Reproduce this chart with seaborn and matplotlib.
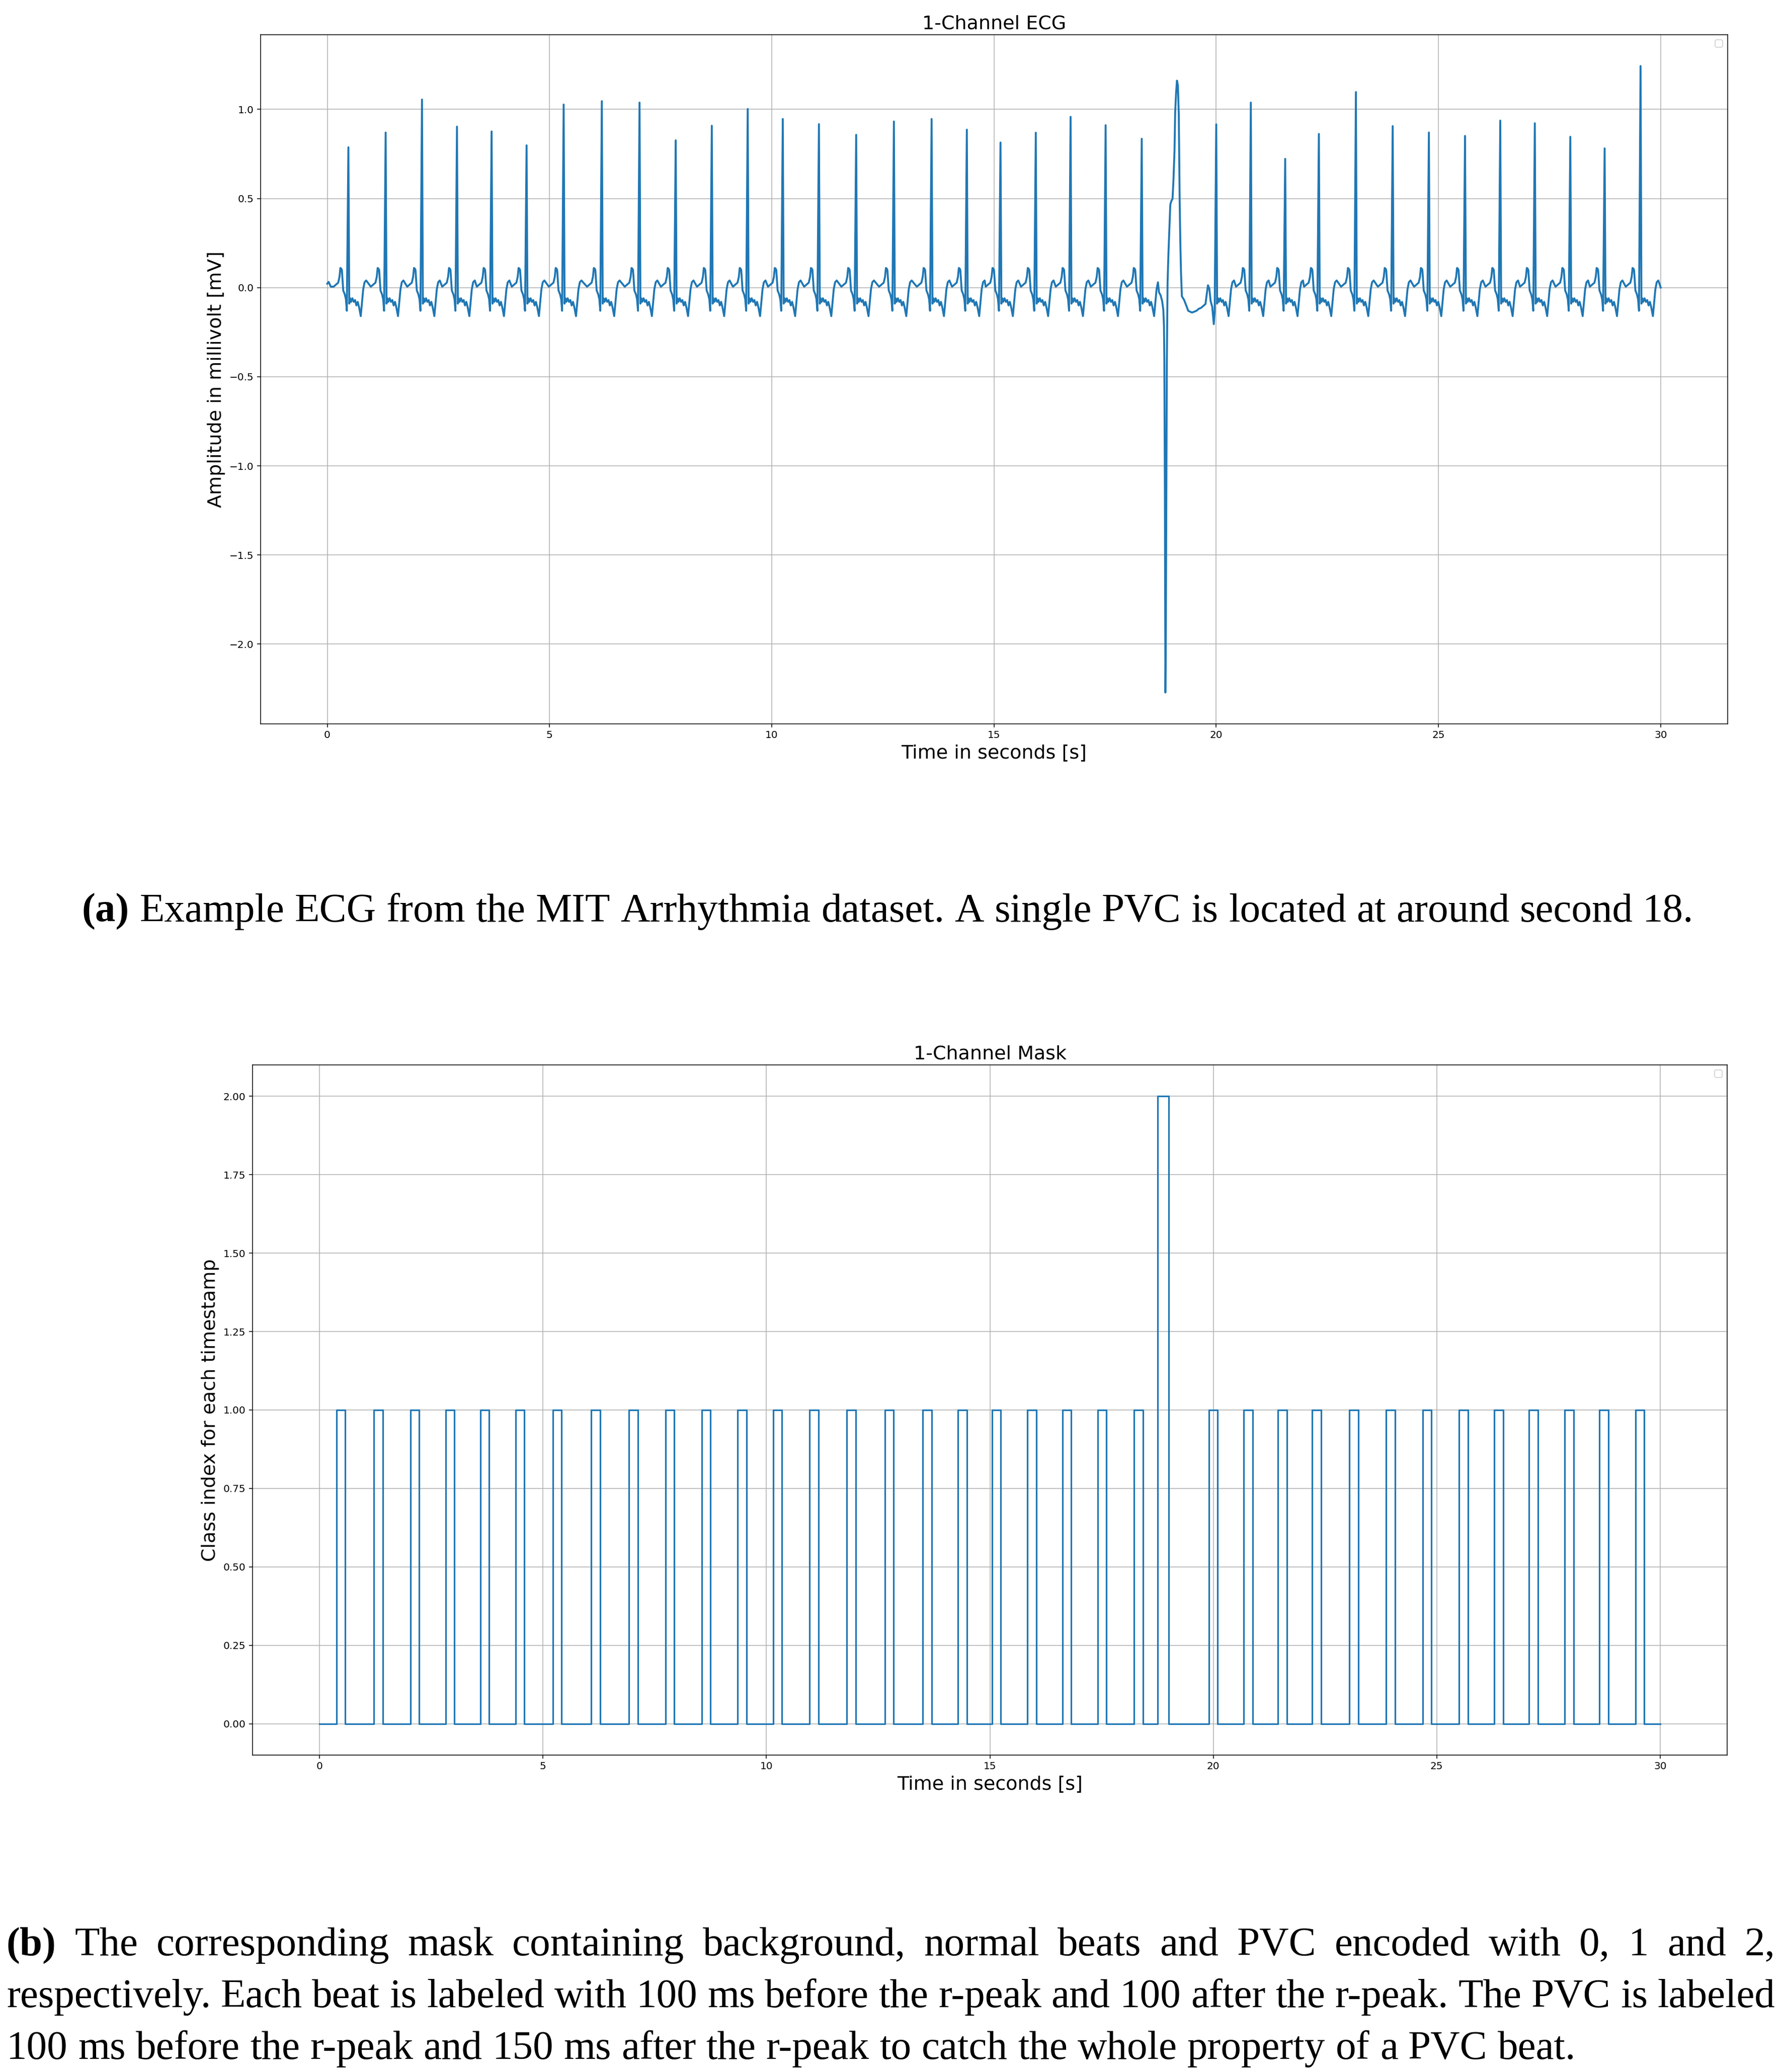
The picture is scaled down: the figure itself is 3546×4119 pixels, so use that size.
import numpy as np
import pandas as pd
import matplotlib
matplotlib.use("Agg")
import matplotlib.pyplot as plt
from matplotlib.ticker import MultipleLocator
import seaborn as sns

# R-peaks of the normal beats: time [s] and amplitude [mV]
r_times = [0.475, 1.313, 2.131, 2.918, 3.697, 4.484, 5.318, 6.177, 7.025,
           7.839, 8.651, 9.459, 10.248, 11.061, 11.899, 12.748, 13.596, 14.389,
           15.146, 15.940, 16.723, 17.511, 18.324,
           20.000, 20.778, 21.551, 22.309, 23.142, 23.970, 24.784, 25.597,
           26.390, 27.167, 27.966, 28.738, 29.546]
r_amps = [0.787, 0.870, 1.055, 0.903, 0.876, 0.798, 1.027, 1.046, 1.038,
          0.826, 0.908, 1.002, 0.946, 0.917, 0.857, 0.932, 0.946, 0.886,
          0.814, 0.869, 0.958, 0.911, 0.835,
          0.916, 1.038, 0.722, 0.862, 1.097, 0.906, 0.870, 0.851,
          0.937, 0.922, 0.846, 0.781, 1.243]

# shape of a normal beat around its r-peak (offset [s], value [mV])
pre_off = [-0.333, -0.300, -0.265, -0.230, -0.200, -0.180, -0.160, -0.146,
           -0.116, -0.081, -0.056, -0.035]
pre_mv = [0.005, 0.012, 0.020, 0.027, 0.060, 0.110, 0.106, 0.098,
          -0.016, -0.038, -0.065, -0.130]
post_off = [0.020, 0.040, 0.060, 0.090, 0.120, 0.150, 0.180, 0.210, 0.240,
            0.278, 0.300, 0.333, 0.364, 0.400]
post_mv = [-0.090, -0.060, -0.080, -0.060, -0.080, -0.070, -0.100, -0.080,
           -0.110, -0.160, -0.100, -0.010, 0.030, 0.040]

# start / end of the record
lead_t = [0.0, 0.03, 0.08]
lead_mv = [0.022, 0.032, 0.005]
tail_t = [30.0]
tail_mv = [0.0]

# the PVC beat, traced point by point
pvc_time = 18.856
pvc_t = [18.713, 18.748, 18.783, 18.809, 18.824, 18.832, 18.845, 18.856,
         18.866, 18.878, 18.888, 18.905, 18.925, 18.950, 18.966, 18.990,
         19.016, 19.036, 19.061, 19.076, 19.096, 19.116, 19.137, 19.157,
         19.177, 19.192, 19.207, 19.227, 19.278, 19.329, 19.369, 19.410,
         19.455, 19.505, 19.556, 19.606, 19.657, 19.707, 19.758, 19.783,
         19.814, 19.844, 19.874, 19.910, 19.945]
pvc_mv = [-0.027, -0.043, -0.076, -0.124, -0.216, -0.400, -1.200, -2.272,
          -1.950, -1.100, -0.440, 0.030, 0.195, 0.357, 0.465, 0.486,
          0.497, 0.595, 0.768, 0.984, 1.090, 1.161, 1.135, 0.973,
          0.486, 0.249, 0.086, -0.049, -0.070, -0.103, -0.130, -0.135,
          -0.140, -0.135, -0.130, -0.119, -0.114, -0.103, -0.092, -0.043,
          0.013, -0.005, -0.076, -0.108, -0.205]

caption_a = "Example ECG from the MIT Arrhythmia dataset. A single PVC is located at around second 18."
caption_b = ["The corresponding mask containing background, normal beats and PVC encoded with 0, 1 and 2,",
             "respectively. Each beat is labeled with 100 ms before the r-peak and 100 after the r-peak. The PVC is labeled",
             "100 ms before the r-peak and 150 ms after the r-peak to catch the whole property of a PVC beat."]

# build the ECG polyline
rows = list(zip(lead_t, lead_mv))
for r, a in zip(r_times, r_amps):
    rows += [(r + o, v) for o, v in zip(pre_off, pre_mv)]
    rows.append((r, a))
    rows += [(r + o, v) for o, v in zip(post_off, post_mv)]
pvc_lo, pvc_hi = pvc_t[0] - 0.012, pvc_t[-1] + 0.005
rows = [p for p in rows if not (pvc_lo < p[0] < pvc_hi)]
rows += list(zip(pvc_t, pvc_mv))
rows += list(zip(tail_t, tail_mv))
ecg = pd.DataFrame(rows, columns=["time", "mv"]).sort_values("time")

# mask: 100 ms before / after each r-peak, PVC 100 ms before / 150 ms after
mask_rows = [(0.0, 0)]
for r in r_times:
    mask_rows += [(r - 0.1, 1), (r + 0.1, 0)]
mask_rows += [(pvc_time - 0.1, 2), (pvc_time + 0.15, 0)]
mask_rows.append((30.0, 0))
mask = pd.DataFrame(mask_rows, columns=["time", "cls"]).sort_values("time")

W, H, DPI = 3546, 4119, 137
fig = plt.figure(figsize=(W / DPI, H / DPI), dpi=DPI)
ax1 = fig.add_axes([518 / W, 1 - 1439 / H, 2915.5 / W, 1370 / H])
ax2 = fig.add_axes([502 / W, 1 - 3489 / H, 2931 / W, 1372 / H])

sns.lineplot(data=ecg, x="time", y="mv", ax=ax1, color="#1f77b4",
             linewidth=2.0, estimator=None, sort=False)
ax1.set_title("1-Channel ECG", fontsize=20)
ax1.set_xlabel("Time in seconds [s]", fontsize=20)
ax1.set_ylabel("Amplitude in millivolt [mV]", fontsize=20)
ax1.yaxis.set_major_locator(MultipleLocator(0.5))

sns.lineplot(data=mask, x="time", y="cls", ax=ax2, color="#1f77b4",
             linewidth=1.7, estimator=None, sort=False, drawstyle="steps-post")
ax2.set_title("1-Channel Mask", fontsize=20)
ax2.set_xlabel("Time in seconds [s]", fontsize=20)
ax2.set_ylabel("Class index for each timestamp", fontsize=20)
ax2.yaxis.set_major_locator(MultipleLocator(0.25))

for ax in (ax1, ax2):
    ax.xaxis.set_major_locator(MultipleLocator(5))
    ax.tick_params(labelsize=10.5)
    ax.grid(True)
    ax.legend(handles=[], loc="upper right")

# captions, set in a serif font and justified like the document
SERIF = "Liberation Serif"
renderer = fig.canvas.get_renderer()


def width_px(s, size, weight="normal"):
    t = fig.text(0, 0, s, fontsize=size, family=SERIF, weight=weight)
    w = t.get_window_extent(renderer).width
    t.remove()
    return w


def put_line(words, y_px, size, x0, x1=None):
    widths = [width_px(w, size, wt) for w, wt in words]
    space = width_px("a a", size) - width_px("aa", size)
    gap = space
    if x1 is not None and len(words) > 1:
        gap = (x1 - x0 - sum(widths)) / (len(words) - 1)
    x = x0
    for (w, wt), wd in zip(words, widths):
        fig.text(x / W, 1 - y_px / H, w, fontsize=size, family=SERIF,
                 weight=wt, ha="left", va="baseline")
        x += wd + gap


words_a = [("(a)", "bold")] + [(w, "normal") for w in caption_a.split()]
ref = 30
nat = sum(width_px(w, ref, wt) for w, wt in words_a) + \
    (width_px("a a", ref) - width_px("aa", ref)) * (len(words_a) - 1)
cap_size = ref * 3207 / nat
put_line(words_a, 1832, cap_size, 163)

lines_b = [[("(b)", "bold")] + [(w, "normal") for w in caption_b[0].split()],
           [(w, "normal") for w in caption_b[1].split()],
           [(w, "normal") for w in caption_b[2].split()]]
put_line(lines_b[0], 3887, cap_size, 13, 3528)
put_line(lines_b[1], 3990, cap_size, 13, 3528)
put_line(lines_b[2], 4093, cap_size, 13)

fig.savefig("out.png", dpi=DPI)
